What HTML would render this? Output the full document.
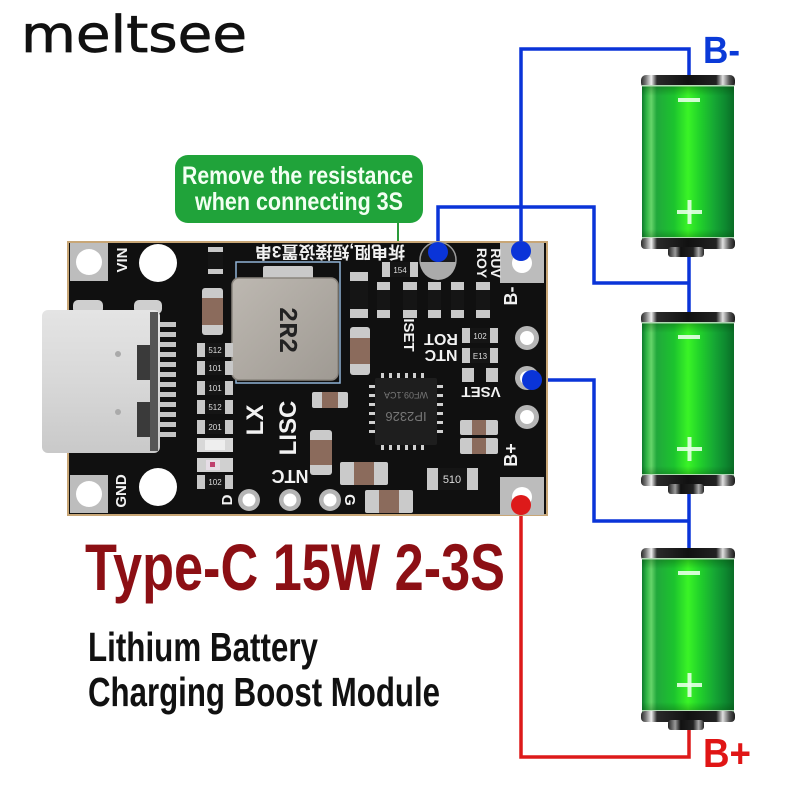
<!DOCTYPE html>
<html><head><meta charset="utf-8">
<style>html,body{margin:0;padding:0;background:#fff;}svg{display:block}</style>
</head>
<body>
<svg width="800" height="800" viewBox="0 0 800 800" xmlns="http://www.w3.org/2000/svg">
<defs>
  <linearGradient id="cap" x1="0" x2="1" y1="0" y2="0">
    <stop offset="0" stop-color="#2a2a2a"/>
    <stop offset="0.05" stop-color="#777"/>
    <stop offset="0.11" stop-color="#f0f0f0"/>
    <stop offset="0.17" stop-color="#2a2a2a"/>
    <stop offset="0.5" stop-color="#111"/>
    <stop offset="0.8" stop-color="#222"/>
    <stop offset="0.87" stop-color="#e0e0e0"/>
    <stop offset="0.94" stop-color="#555"/>
    <stop offset="1" stop-color="#1a1a1a"/>
  </linearGradient>
  <linearGradient id="tip" x1="0" x2="1" y1="0" y2="0">
    <stop offset="0" stop-color="#222"/>
    <stop offset="0.2" stop-color="#999"/>
    <stop offset="0.35" stop-color="#111"/>
    <stop offset="0.7" stop-color="#222"/>
    <stop offset="0.85" stop-color="#aaa"/>
    <stop offset="1" stop-color="#222"/>
  </linearGradient>
  <linearGradient id="grn" x1="0" x2="1" y1="0" y2="0">
    <stop offset="0" stop-color="#0d7a2c"/>
    <stop offset="0.05" stop-color="#2fb545"/>
    <stop offset="0.1" stop-color="#66d46a"/>
    <stop offset="0.16" stop-color="#21a83c"/>
    <stop offset="0.35" stop-color="#1cc42e"/>
    <stop offset="0.5" stop-color="#3af426"/>
    <stop offset="0.62" stop-color="#22d42a"/>
    <stop offset="0.78" stop-color="#16a834"/>
    <stop offset="0.9" stop-color="#0e8a30"/>
    <stop offset="1" stop-color="#0a6d26"/>
  </linearGradient>
  <linearGradient id="grnv" x1="0" x2="0" y1="0" y2="1">
    <stop offset="0" stop-color="#003300" stop-opacity="0.35"/>
    <stop offset="0.07" stop-color="#003300" stop-opacity="0"/>
    <stop offset="0.93" stop-color="#003300" stop-opacity="0"/>
    <stop offset="1" stop-color="#003300" stop-opacity="0.35"/>
  </linearGradient>
  <linearGradient id="usb" x1="0" x2="0" y1="0" y2="1">
    <stop offset="0" stop-color="#e4e4e4"/>
    <stop offset="0.5" stop-color="#d8d8d8"/>
    <stop offset="1" stop-color="#c9c9c9"/>
  </linearGradient>
  <linearGradient id="ind" x1="0" x2="1" y1="0" y2="1">
    <stop offset="0" stop-color="#bdb8b1"/>
    <stop offset="1" stop-color="#9f9a93"/>
  </linearGradient>
  <g id="bat">
    <rect x="641" y="0" width="94" height="13" rx="5" fill="url(#cap)"/>
    <rect x="642" y="10" width="92" height="155" fill="url(#grn)"/>
    <rect x="642" y="10" width="92" height="155" fill="url(#grnv)"/>
    <rect x="642" y="10" width="92" height="1.5" fill="#d8efd8" opacity="0.8"/>
    <rect x="642" y="162" width="92" height="1.5" fill="#d8efd8" opacity="0.8"/>
    <rect x="641" y="163" width="94" height="11" rx="4" fill="url(#cap)"/>
    <rect x="668" y="172" width="36" height="10" rx="3" fill="url(#tip)"/>
    <rect x="678" y="23" width="22" height="4" fill="#e6ffe6" opacity="0.9"/>
    <rect x="677" y="135" width="25" height="4" fill="#e6ffe6" opacity="0.9"/>
    <rect x="687.5" y="125" width="4" height="24" fill="#e6ffe6" opacity="0.9"/>
  </g>
</defs>

<rect width="800" height="800" fill="#fff"/>

<!-- brand -->
<text x="21" y="52" font-family="DejaVu Sans, sans-serif" font-size="51" fill="#111" stroke="#111" stroke-width="0.7" textLength="226" lengthAdjust="spacingAndGlyphs">meltsee</text>

<!-- callout -->
<rect x="175" y="155" width="248" height="68" rx="13" fill="#20a33a"/>
<line x1="398" y1="223" x2="398" y2="244" stroke="#2a9a3a" stroke-width="2"/>
<text x="182" y="184" font-family="Liberation Sans Narrow, Liberation Sans, sans-serif" font-weight="bold" font-size="25" fill="#f2fff2" textLength="231" lengthAdjust="spacingAndGlyphs">Remove the resistance</text>
<text x="195" y="210" font-family="Liberation Sans Narrow, Liberation Sans, sans-serif" font-weight="bold" font-size="25" fill="#f2fff2" textLength="208" lengthAdjust="spacingAndGlyphs">when connecting 3S</text>

<!-- wires -->
<g fill="none" stroke="#0a34d8" stroke-width="3.5">
  <path d="M521,251 V49 H689 V77"/>
  <path d="M438,252 V207 H594 V283 H689"/>
  <path d="M689,255 V313"/>
  <path d="M532,380 H594 V521 H689"/>
  <path d="M689,492 V549"/>
</g>
<path d="M521,505 V757 H689 V728" fill="none" stroke="#dd1a1a" stroke-width="3.5"/>

<!-- batteries -->
<use href="#bat" y="75"/>
<use href="#bat" y="312"/>
<use href="#bat" y="548"/>

<text x="703" y="63" font-family="Liberation Sans, sans-serif" font-weight="bold" font-size="38" fill="#0a3ad8" textLength="37" lengthAdjust="spacingAndGlyphs">B-</text>
<text x="703" y="767" font-family="Liberation Sans, sans-serif" font-weight="bold" font-size="41" fill="#e01515" textLength="48" lengthAdjust="spacingAndGlyphs">B+</text>

<!-- PCB -->
<rect x="67" y="241" width="481" height="275" fill="#c8a676"/>
<rect x="69" y="243" width="477" height="271" fill="#101010"/>

<!-- corner pads -->
<rect x="70" y="243" width="38" height="38" fill="#bdbdbd"/>
<circle cx="89" cy="262" r="13" fill="#fff"/>
<rect x="70" y="475" width="38" height="38" fill="#bdbdbd"/>
<circle cx="89" cy="494" r="13" fill="#fff"/>
<rect x="500" y="243" width="44" height="40" fill="#bcbcbc"/>
<circle cx="522" cy="263" r="10" fill="#fff"/>
<rect x="500" y="477" width="44" height="38" fill="#bcbcbc"/>
<circle cx="522" cy="497" r="10" fill="#fff"/>

<!-- big holes -->
<circle cx="158" cy="263" r="19" fill="#fff"/>
<circle cx="158" cy="487" r="19" fill="#fff"/>

<!-- small holes -->
<g fill="#b5b5b5">
  <circle cx="527" cy="338" r="12"/><circle cx="527" cy="378" r="12"/><circle cx="527" cy="417" r="12"/>
  <circle cx="249" cy="500" r="11"/><circle cx="290" cy="500" r="11"/><circle cx="330" cy="500" r="11"/>
</g>
<g fill="#fff">
  <circle cx="527" cy="338" r="7"/><circle cx="527" cy="378" r="7"/><circle cx="527" cy="417" r="7"/>
  <circle cx="249" cy="500" r="6.5"/><circle cx="290" cy="500" r="6.5"/><circle cx="330" cy="500" r="6.5"/>
</g>

<!-- USB-C -->
<rect x="73" y="300" width="30" height="14" rx="5" fill="#cfcfcf"/>
<rect x="134" y="300" width="28" height="14" rx="5" fill="#cfcfcf"/>
<g fill="#c4c4c4">
  <rect x="155" y="322" width="21" height="5"/><rect x="155" y="332" width="21" height="5"/>
  <rect x="155" y="342" width="21" height="5"/><rect x="155" y="352" width="21" height="5"/>
  <rect x="155" y="362" width="21" height="5"/><rect x="155" y="372" width="21" height="5"/>
  <rect x="155" y="382" width="21" height="5"/><rect x="155" y="392" width="21" height="5"/>
  <rect x="155" y="402" width="21" height="5"/><rect x="155" y="412" width="21" height="5"/>
  <rect x="155" y="422" width="21" height="5"/><rect x="155" y="432" width="21" height="5"/>
</g>
<rect x="42" y="310" width="118" height="143" rx="6" fill="url(#usb)"/>
<rect x="150" y="312" width="8" height="139" fill="#555"/>
<rect x="137" y="345" width="13" height="35" fill="#3a3a3a"/>
<rect x="137" y="402" width="13" height="35" fill="#3a3a3a"/>
<circle cx="118" cy="354" r="3" fill="#aaa"/>
<circle cx="118" cy="412" r="3" fill="#aaa"/>

<!-- inductor -->
<rect x="236" y="262" width="104" height="121" fill="none" stroke="#8fb3d6" stroke-width="1.5"/>
<rect x="263" y="266" width="50" height="16" rx="2" fill="#c9c9c9"/>
<rect x="232" y="278" width="106" height="102" rx="7" fill="url(#ind)" stroke="#8a857e" stroke-width="1.5"/>
<text x="0" y="0" transform="translate(280,330) rotate(90)" text-anchor="middle" font-family="Liberation Mono, monospace" font-weight="bold" font-size="26" fill="#222">2R2</text>

<!-- chip -->
<g fill="#cfcfcf">
  <rect x="381" y="373" width="3" height="6"/><rect x="389" y="373" width="3" height="6"/><rect x="397" y="373" width="3" height="6"/>
  <rect x="405" y="373" width="3" height="6"/><rect x="413" y="373" width="3" height="6"/><rect x="421" y="373" width="3" height="6"/>
  <rect x="381" y="444" width="3" height="6"/><rect x="389" y="444" width="3" height="6"/><rect x="397" y="444" width="3" height="6"/>
  <rect x="405" y="444" width="3" height="6"/><rect x="413" y="444" width="3" height="6"/><rect x="421" y="444" width="3" height="6"/>
  <rect x="369" y="385" width="7" height="3"/><rect x="369" y="394" width="7" height="3"/><rect x="369" y="403" width="7" height="3"/>
  <rect x="369" y="412" width="7" height="3"/><rect x="369" y="421" width="7" height="3"/><rect x="369" y="430" width="7" height="3"/>
  <rect x="436" y="385" width="7" height="3"/><rect x="436" y="394" width="7" height="3"/><rect x="436" y="403" width="7" height="3"/>
  <rect x="436" y="412" width="7" height="3"/><rect x="436" y="421" width="7" height="3"/><rect x="436" y="430" width="7" height="3"/>
</g>
<rect x="375" y="378" width="62" height="67" rx="2" fill="#1e1e1e"/>
<text transform="translate(406,412) rotate(180)" text-anchor="middle" font-family="Liberation Sans, sans-serif" font-size="13" fill="#777">IP2326</text>
<text transform="translate(406,392) rotate(180)" text-anchor="middle" font-family="Liberation Sans, sans-serif" font-size="9" fill="#777">WF09.1CA</text>

<!-- left column resistors -->
<g>
  <rect x="208" y="247" width="15" height="27" fill="#c8c8c8"/><rect x="208" y="252" width="15" height="17" fill="#151515"/>
  <rect x="202" y="288" width="21" height="47" rx="3" fill="#cacaca"/><rect x="202" y="298" width="21" height="27" fill="#8b6b5c"/>
  <rect x="197" y="343" width="36" height="14" fill="#c8c8c8"/><rect x="205" y="343" width="20" height="14" fill="#151515"/>
  <rect x="197" y="361" width="36" height="14" fill="#c8c8c8"/><rect x="205" y="361" width="20" height="14" fill="#151515"/>
  <rect x="197" y="381" width="36" height="14" fill="#c8c8c8"/><rect x="205" y="381" width="20" height="14" fill="#151515"/>
  <rect x="197" y="400" width="36" height="14" fill="#c8c8c8"/><rect x="205" y="400" width="20" height="14" fill="#151515"/>
  <rect x="197" y="420" width="36" height="14" fill="#c8c8c8"/><rect x="205" y="420" width="20" height="14" fill="#151515"/>
  <rect x="197" y="438" width="36" height="14" fill="#d8d8d8"/><rect x="205" y="440" width="20" height="10" fill="#eeeeee"/>
  <rect x="197" y="458" width="36" height="14" fill="#d0d0d0"/><rect x="206" y="460" width="14" height="10" fill="#e6dde6"/><rect x="210" y="462" width="5" height="5" fill="#c04070"/>
  <rect x="197" y="475" width="36" height="14" fill="#c8c8c8"/><rect x="205" y="475" width="20" height="14" fill="#151515"/>
</g>
<g font-family="Liberation Sans, sans-serif" font-size="8" fill="#ddd" text-anchor="middle">
  <text x="215" y="353">512</text><text x="215" y="371">101</text><text x="215" y="391">101</text>
  <text x="215" y="410">512</text><text x="215" y="430">201</text><text x="215" y="485">102</text>
</g>

<!-- top row resistors -->
<g>
  <rect x="350" y="272" width="18" height="46" fill="#c8c8c8"/><rect x="350" y="281" width="18" height="28" fill="#151515"/>
  <rect x="377" y="282" width="13" height="36" fill="#c8c8c8"/><rect x="377" y="290" width="13" height="20" fill="#151515"/>
  <rect x="403" y="282" width="14" height="36" fill="#c8c8c8"/><rect x="403" y="290" width="14" height="20" fill="#151515"/>
  <rect x="428" y="282" width="13" height="36" fill="#c8c8c8"/><rect x="428" y="290" width="13" height="20" fill="#151515"/>
  <rect x="451" y="282" width="13" height="36" fill="#c8c8c8"/><rect x="451" y="290" width="13" height="20" fill="#151515"/>
  <rect x="476" y="282" width="14" height="36" fill="#c8c8c8"/><rect x="476" y="290" width="14" height="20" fill="#151515"/>
  <rect x="382" y="262" width="36" height="15" fill="#c8c8c8"/><rect x="390" y="262" width="20" height="15" fill="#151515"/>
  <rect x="350" y="327" width="20" height="48" rx="3" fill="#cacaca"/><rect x="350" y="338" width="20" height="26" fill="#8b6b5c"/>
  <rect x="312" y="392" width="36" height="16" rx="2" fill="#cacaca"/><rect x="322" y="392" width="16" height="16" fill="#8b6b5c"/>
  <rect x="310" y="430" width="22" height="45" rx="3" fill="#cacaca"/><rect x="310" y="440" width="22" height="25" fill="#8b6b5c"/>
  <rect x="340" y="462" width="48" height="23" rx="2" fill="#cacaca"/><rect x="354" y="462" width="20" height="23" fill="#8b6b5c"/>
  <rect x="365" y="490" width="48" height="23" rx="2" fill="#cacaca"/><rect x="379" y="490" width="20" height="23" fill="#8b6b5c"/>
  <rect x="460" y="420" width="38" height="15" rx="2" fill="#cacaca"/><rect x="472" y="420" width="14" height="15" fill="#8b6b5c"/>
  <rect x="460" y="438" width="38" height="16" rx="2" fill="#cacaca"/><rect x="472" y="438" width="14" height="16" fill="#8b6b5c"/>
  <rect x="462" y="328" width="36" height="15" fill="#c8c8c8"/><rect x="470" y="328" width="20" height="15" fill="#151515"/>
  <rect x="462" y="348" width="36" height="15" fill="#c8c8c8"/><rect x="470" y="348" width="20" height="15" fill="#151515"/>
  <rect x="462" y="368" width="12" height="14" fill="#c8c8c8"/><rect x="486" y="368" width="12" height="14" fill="#c8c8c8"/>
  <rect x="427" y="468" width="51" height="22" fill="#c8c8c8"/><rect x="438" y="468" width="29" height="22" fill="#151515"/>
</g>
<g font-family="Liberation Sans, sans-serif" font-size="8" fill="#ddd" text-anchor="middle">
  <text x="480" y="339">102</text><text x="480" y="359">E13</text>
  <text x="452" y="483" font-size="11">510</text><text x="400" y="273">154</text>
</g>

<!-- round component near top -->
<circle cx="438" cy="260" r="18" fill="#1a1a1a" stroke="#9a9a9a" stroke-width="1.5"/>
<path d="M420,262 A18,18 0 0 0 456,262 Z" fill="#aaa"/>

<!-- silkscreen labels -->
<g font-family="Liberation Sans, sans-serif" font-weight="bold" fill="#f2f2f2" text-anchor="middle">
  <text transform="translate(127,260) rotate(-90)" font-size="15">VIN</text>
  <text transform="translate(126,491) rotate(-90)" font-size="15">GND</text>
  <text transform="translate(517,296) rotate(-90)" font-size="18">B-</text>
  <text transform="translate(517,455) rotate(-90)" font-size="18">B+</text>
  <text transform="translate(263,420) rotate(-90)" font-size="24">LX</text>
  <text transform="translate(296,428) rotate(-90)" font-size="24">LISC</text>
  <text transform="translate(232,500) rotate(-90)" font-size="15">D</text>
  <text transform="translate(290,470) rotate(180)" font-size="18">NTC</text>
  <text transform="translate(345,500) rotate(90)" font-size="15">G</text>
  <text transform="translate(441,334) rotate(180)" font-size="16">ROT</text>
  <text transform="translate(441,350) rotate(180)" font-size="16">NTC</text>
  <text transform="translate(404,335) rotate(90)" font-size="15">ISET</text>
  <text transform="translate(481,387) rotate(180)" font-size="15">VSET</text>
  <text transform="translate(477,263) rotate(90)" font-size="14">ROY</text>
  <text transform="translate(491,263) rotate(90)" font-size="14">RUV</text>
  <text transform="translate(330,246) rotate(180)" font-family="Liberation Sans, Noto Sans CJK SC, sans-serif" font-size="17">拆电阻,短接设置3串</text>
</g>

<!-- connection dots -->
<circle cx="438" cy="252" r="10" fill="#0a34d8"/>
<circle cx="521" cy="251" r="10" fill="#0a34d8"/>
<circle cx="532" cy="380" r="10" fill="#0a34d8"/>
<circle cx="521" cy="505" r="10" fill="#dd1a1a"/>

<!-- headings -->
<text transform="translate(85,590) scale(1,1.1)" x="0" y="0" font-family="Liberation Sans, sans-serif" font-weight="bold" font-size="60" fill="#8c0f14" textLength="420" lengthAdjust="spacingAndGlyphs">Type-C 15W 2-3S</text>
<text x="88" y="661" font-family="Liberation Sans Narrow, Liberation Sans, sans-serif" font-weight="bold" font-size="41" fill="#111" textLength="230" lengthAdjust="spacingAndGlyphs">Lithium Battery</text>
<text x="88" y="706" font-family="Liberation Sans Narrow, Liberation Sans, sans-serif" font-weight="bold" font-size="41" fill="#111" textLength="352" lengthAdjust="spacingAndGlyphs">Charging Boost Module</text>
</svg>
</body></html>
